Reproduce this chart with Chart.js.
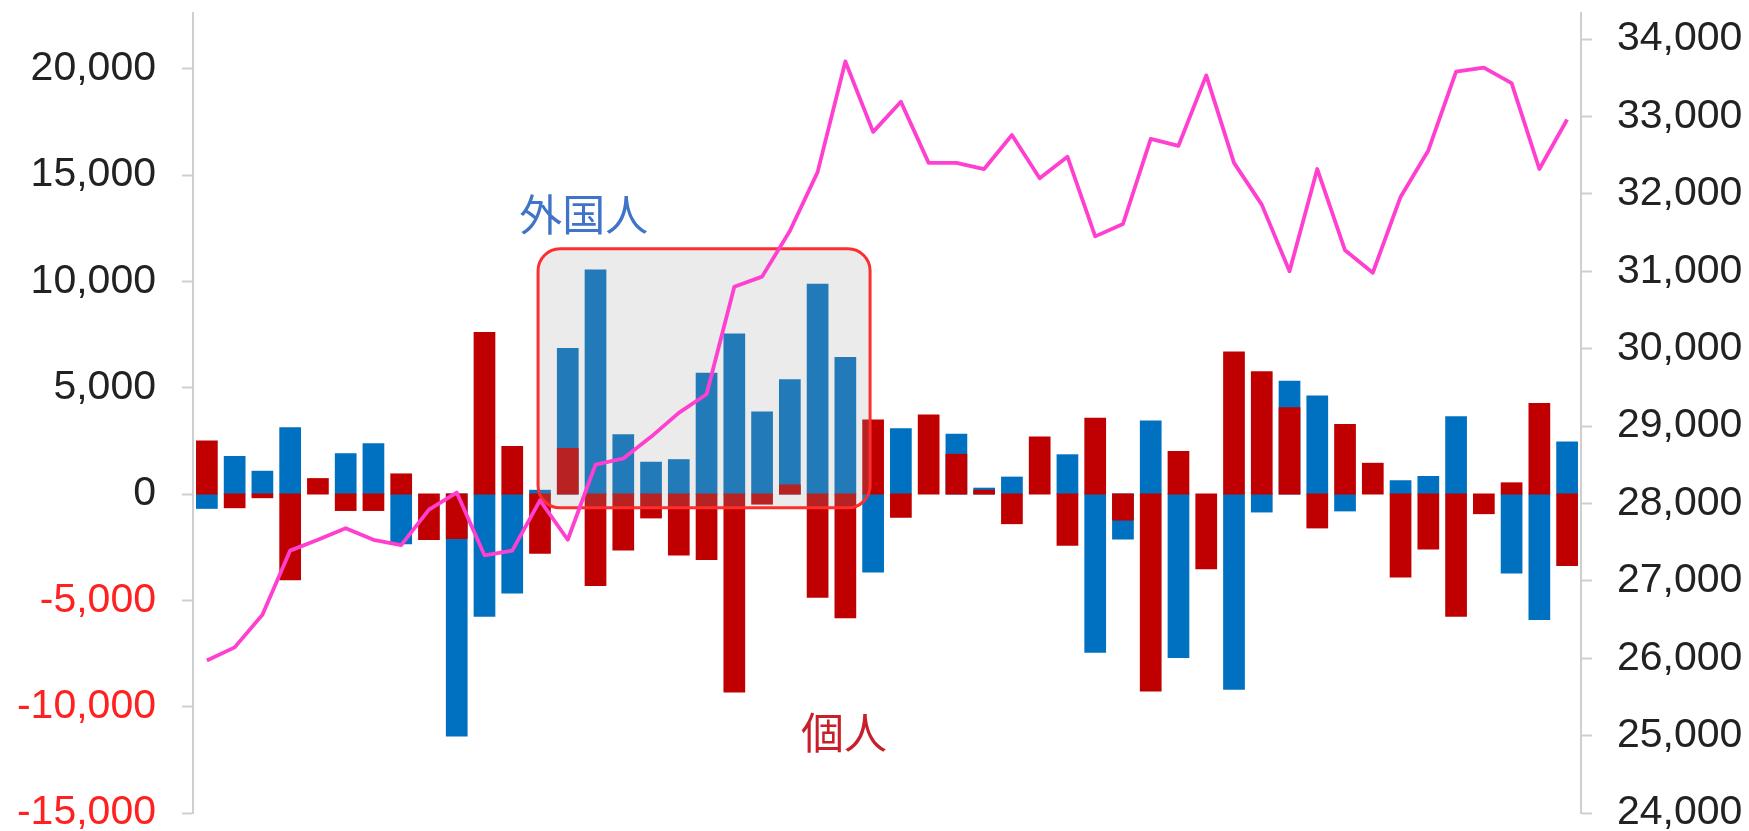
<!DOCTYPE html>
<html><head><meta charset="utf-8">
<script src="https://cdn.jsdelivr.net/npm/chart.js@4.4.0/dist/chart.umd.min.js"></script>
<style>html,body{margin:0;padding:0;background:#fff;overflow:hidden}#wrap{width:1749px;height:831px;position:relative;overflow:hidden}</style>
</head><body><div id="wrap"><canvas id="c" width="1749" height="831"></canvas></div>
<script>
// ---- data ----
const categories = ["W1","W2","W3","W4","W5","W6","W7","W8","W9","W10","W11","W12","W13","W14","W15","W16","W17","W18","W19","W20","W21","W22","W23","W24","W25","W26","W27","W28","W29","W30","W31","W32","W33","W34","W35","W36","W37","W38","W39","W40","W41","W42","W43","W44","W45","W46","W47","W48","W49","W50"];
// null = hidden behind the other bar / not readable
const foreignFlow = [-650,1740,1045,3090,null,1870,2340,-2320,null,-11350,-5730,-4630,150,6820,10510,2760,1470,1590,5650,7500,3830,5350,9840,6400,-3640,3040,null,2790,250,770,null,1820,-7420,-2090,3410,-7670,null,-9160,-820,5280,4580,-770,null,600,800,3610,null,-3690,-5880,2420];
const individualFlow = [2465,-620,-150,-4010,700,-750,-750,920,-2120,-2070,7570,2215,-2760,2115,-4280,-2610,-1100,-2840,-3060,-9290,-450,400,-4830,-5800,3460,-1070,3690,1840,150,-1370,2660,-2390,3540,-1200,-9240,1970,-3490,6650,5730,4030,-1570,3240,1420,-3880,-2560,-5730,-900,500,4230,-3340];
const indexLevel = [25970,26140,26560,27390,27530,27680,27530,27460,27920,28140,27330,27390,28040,27530,28500,28580,28860,29170,29410,30800,30930,31520,32280,33710,32800,33190,32400,32400,32320,32760,32200,32480,31450,31610,32710,32620,33530,32400,31860,31000,32320,31270,30980,31960,32560,33580,33630,33430,32320,32960];
const leftTicks = [-15000,-10000,-5000,0,5000,10000,15000,20000];
const rightTicks = [24000,25000,26000,27000,28000,29000,30000,31000,32000,33000,34000];
const labelForeign = "外国人";
const labelIndividual = "個人";

// ---- annotation placement (data units) ----
const annot = {
  box: {x0: 11.93, x1: 23.89, y0: -650, y1: 11530, radius: 22, fill: 'rgba(160,160,160,0.21)', stroke: '#ff2e2e', lw: 3},
  foreign: {x: 13.58, y: 13130, color: '#3f74c8'},
  individual: {x: 22.95, y: -11230, color: '#c8202a'},
  font: '400 43px "Noto Sans CJK JP", "Noto Sans CJK SC", sans-serif'
};

const LINE_INDEX = 2;
const overlay = {
  id: 'overlay',
  beforeDatasetDraw(chart, args) {
    if (args.index !== LINE_INDEX) return;
    const {ctx, scales} = chart;
    const b = annot.box;
    const xa = scales.x.getPixelForValue(b.x0), xb = scales.x.getPixelForValue(b.x1);
    const ya = scales.y.getPixelForValue(b.y1), yb = scales.y.getPixelForValue(b.y0);
    ctx.save();
    ctx.beginPath();
    ctx.roundRect(xa, ya, xb - xa, yb - ya, b.radius);
    ctx.fillStyle = b.fill; ctx.fill();
    ctx.lineWidth = b.lw; ctx.strokeStyle = b.stroke; ctx.stroke();
    ctx.restore();
  },
  afterDatasetsDraw(chart) {
    const {ctx, scales} = chart;
    ctx.save();
    ctx.font = annot.font;
    ctx.textAlign = 'center'; ctx.textBaseline = 'middle';
    ctx.fillStyle = annot.foreign.color;
    ctx.fillText(labelForeign, scales.x.getPixelForValue(annot.foreign.x), scales.y.getPixelForValue(annot.foreign.y));
    ctx.fillStyle = annot.individual.color;
    ctx.fillText(labelIndividual, scales.x.getPixelForValue(annot.individual.x), scales.y.getPixelForValue(annot.individual.y));
    ctx.restore();
  }
};

const tickFont = {family: '"Liberation Sans", Arial, sans-serif', size: 41};
const fmt = v => Number(v).toLocaleString('en-US');

new Chart(document.getElementById('c'), {
  data: {
    labels: categories,
    datasets: [
      {type: 'bar', label: labelForeign, data: foreignFlow, backgroundColor: '#0070c0', grouped: false, order: 2, yAxisID: 'y', barPercentage: 0.71, categoryPercentage: 1, inflateAmount: 1},
      {type: 'bar', label: labelIndividual, data: individualFlow, backgroundColor: '#c00000', grouped: false, order: 1, yAxisID: 'y', barPercentage: 0.71, categoryPercentage: 1, inflateAmount: 1},
      {type: 'line', label: 'index', data: indexLevel, borderColor: '#ff3fcf', borderWidth: 3.8, pointRadius: 0, tension: 0, fill: false, order: 0, yAxisID: 'y2', borderJoinStyle: 'round'}
    ]
  },
  options: {
    responsive: false, animation: false,
    layout: {padding: {top: 13, bottom: 18, left: 0, right: 0}},
    plugins: {legend: {display: false}, tooltip: {enabled: false}},
    scales: {
      x: {display: false},
      y: {
        position: 'left', min: -15000, max: 22618,
        afterBuildTicks(s) { s.ticks = leftTicks.map(v => ({value: v})); },
        afterFit(s) { s.width = 193; s.paddingTop = 0; s.paddingBottom = 0; },
        grid: {drawOnChartArea: false, drawTicks: true, tickLength: 11, tickColor: '#cfcfcf', tickWidth: 2},
        border: {display: true, color: '#cfcfcf', width: 2},
        ticks: {autoSkip: false, padding: 26, font: tickFont, callback: fmt,
          color: c => (c.tick && c.tick.value < 0) ? '#ff2020' : '#222222'}
      },
      y2: {
        position: 'right', min: 24000, max: 34336,
        afterBuildTicks(s) { s.ticks = rightTicks.map(v => ({value: v})); },
        afterFit(s) { s.width = 168; s.paddingTop = 0; s.paddingBottom = 0; },
        grid: {drawOnChartArea: false, drawTicks: true, tickLength: 11, tickColor: '#cfcfcf', tickWidth: 2},
        border: {display: true, color: '#cfcfcf', width: 2},
        ticks: {autoSkip: false, padding: 25, font: tickFont, callback: fmt, color: '#222222'}
      }
    }
  },
  plugins: [overlay]
});
</script></body></html>
